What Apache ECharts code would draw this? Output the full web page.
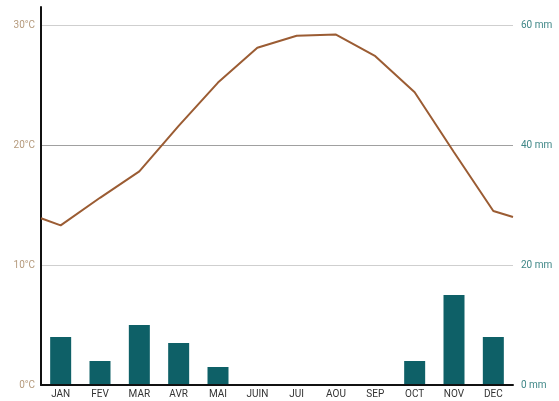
<!DOCTYPE html>
<html>
<head>
<meta charset="utf-8">
<script src="https://cdn.jsdelivr.net/npm/echarts@6/dist/echarts.min.js"></script>
<style>
html,body{margin:0;padding:0;background:#fff;}
#chart{width:559px;height:401px;}
</style>
</head>
<body>
<div id="chart"></div>
<script>
var months = ['JAN','FEV','MAR','AVR','MAI','JUIN','JUI','AOU','SEP','OCT','NOV','DEC'];
var temps = [13.3, 15.6, 17.8, 21.6, 25.2, 28.1, 29.1, 29.2, 27.4, 24.4, 19.4, 14.5];
var tempStart = 13.9;
var tempEnd = 14.0;
var precip = [8, 4, 10, 7, 3, 0, 0, 0, 0, 4, 15, 8];
var tempTicks = [0, 10, 20, 30];
var precipTicks = [0, 20, 40, 60];

var linePts = [[0, tempStart]];
temps.forEach(function (t, i) { linePts.push([i + 0.5, t]); });
linePts.push([months.length, tempEnd]);

var chart = echarts.init(document.getElementById('chart'), null, {renderer: 'canvas'});
chart.setOption({
  animation: false,
  backgroundColor: '#fff',
  textStyle: {fontFamily: 'Roboto'},
  grid: {left: 41, right: 46, top: 7, bottom: 16, containLabel: false},
  xAxis: [{
    type: 'category',
    data: months,
    boundaryGap: true,
    axisLine: {lineStyle: {color: '#111', width: 2}},
    axisTick: {show: false},
    axisLabel: {color: '#333', fontSize: 10, margin: 4, fontFamily: 'Roboto'},
    splitLine: {show: false},
    z: 5
  }, {
    type: 'value',
    min: 0,
    max: months.length,
    show: false
  }],
  yAxis: [{
    type: 'value',
    min: 0,
    max: 31.5,
    interval: 10,
    axisLine: {show: true, lineStyle: {color: '#111', width: 2}},
    axisTick: {show: false},
    axisLabel: {
      color: '#b59a7c', fontSize: 10, margin: 6, fontFamily: 'Roboto',
      formatter: function (v) { return tempTicks.indexOf(v) >= 0 ? v + '°C' : ''; }
    },
    splitLine: {show: true, showMaxLine: false, lineStyle: {color: ['#000', '#cfcfcf', '#a0a0a0', '#cfcfcf'], width: 1}}
  }, {
    type: 'value',
    min: 0,
    max: 63,
    interval: 20,
    position: 'right',
    axisLine: {show: false},
    axisTick: {show: false},
    splitLine: {show: false},
    axisLabel: {
      color: '#3f8787', fontSize: 10, margin: 8, fontFamily: 'Roboto',
      formatter: function (v) { return precipTicks.indexOf(v) >= 0 ? v + ' mm' : ''; }
    }
  }],
  series: [{
    type: 'bar',
    data: precip,
    xAxisIndex: 0,
    yAxisIndex: 1,
    barWidth: 21,
    itemStyle: {color: '#0e6067'},
    z: 2
  }, {
    type: 'line',
    data: linePts,
    xAxisIndex: 1,
    yAxisIndex: 0,
    symbol: 'none',
    lineStyle: {color: '#9b5c33', width: 2},
    z: 3
  }]
});
</script>
</body>
</html>
